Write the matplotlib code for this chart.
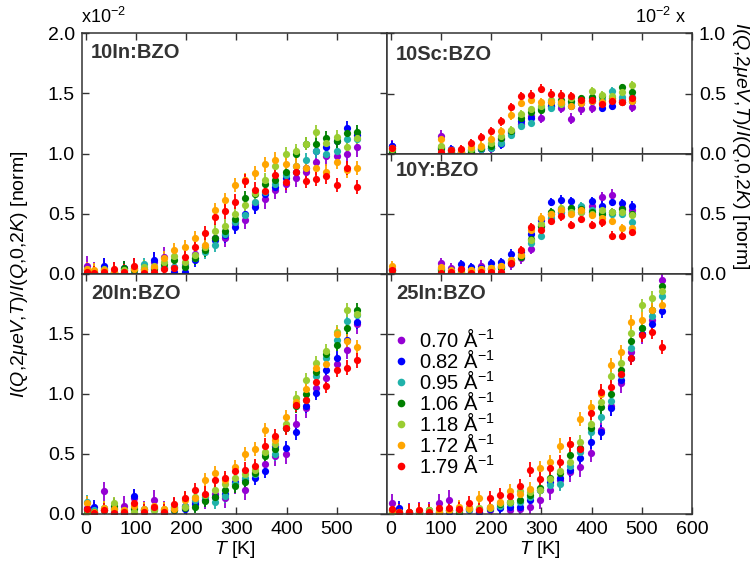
import numpy as np
import matplotlib
matplotlib.use("Agg")
import matplotlib.pyplot as plt
from matplotlib.lines import Line2D

plt.rcParams['font.family'] = ['Liberation Sans', 'DejaVu Sans']
plt.rcParams['mathtext.fontset'] = 'custom'
plt.rcParams['mathtext.rm'] = 'Liberation Sans'
plt.rcParams['mathtext.it'] = 'Liberation Sans:italic'
plt.rcParams['mathtext.bf'] = 'Liberation Sans:bold'

# momentum transfers and colours, lowest Q drawn first
q_labels = ["0.70", "0.82", "0.95", "1.06", "1.18", "1.72", "1.79"]
q_colors = ["#9400d3", "#0000ff", "#20b2aa", "#008000", "#9acd32", "#ffa500", "#ff0000"]

# temperatures [K]
t_in = [2, 17, 37, 57, 77, 97, 117, 137, 157, 177, 197, 217, 237, 258,
        278, 298, 318, 338, 358, 378, 398, 418, 438, 458, 478, 500, 520, 540]
t_sy = [2, 100, 120, 140, 160, 180, 200, 220, 240, 260, 280, 300, 320, 340,
        360, 380, 400, 420, 440, 460, 480]

# normalised elastic intensity (x 1e-2), one row per Q
in10 = [
    [0.07, 0.02, 0.05, 0.02, 0.03, 0.05, 0.04, 0.10, 0.14, 0.06, 0.08, 0.17, 0.22, 0.30,
     0.30, 0.42, 0.45, 0.58, 0.62, 0.70, 0.75, 0.80, 0.85, 0.93, 0.98, 0.98, 1.00, 1.05],
    [0.03, 0.01, 0.07, 0.02, 0.05, 0.00, 0.02, 0.12, 0.05, 0.02, 0.02, 0.12, 0.20, 0.28,
     0.32, 0.39, 0.50, 0.56, 0.66, 0.72, 0.80, 0.85, 0.88, 1.02, 1.05, 1.10, 1.21, 1.15],
    [0.04, 0.01, 0.02, 0.00, 0.03, 0.03, 0.08, 0.05, 0.06, 0.06, 0.07, 0.13, 0.18, 0.24,
     0.33, 0.43, 0.49, 0.60, 0.68, 0.75, 0.82, 0.90, 0.95, 1.02, 1.00, 1.02, 1.12, 1.12],
    [0.02, 0.02, 0.03, 0.01, 0.05, 0.03, 0.04, 0.04, 0.08, 0.12, 0.06, 0.13, 0.20, 0.30,
     0.36, 0.46, 0.63, 0.66, 0.75, 0.78, 0.85, 1.00, 1.08, 1.08, 1.13, 1.10, 1.17, 1.18],
    [0.03, 0.02, 0.04, 0.02, 0.03, 0.05, 0.06, 0.07, 0.10, 0.15, 0.10, 0.16, 0.22, 0.36,
     0.40, 0.50, 0.57, 0.67, 0.78, 0.90, 1.00, 1.02, 1.08, 1.18, 1.09, 1.14, 1.05, 1.13],
    [0.04, 0.03, 0.03, 0.02, 0.02, 0.04, 0.03, 0.06, 0.13, 0.20, 0.22, 0.30, 0.24, 0.53,
     0.61, 0.74, 0.78, 0.84, 0.91, 0.95, 0.91, 0.90, 0.88, 0.88, 0.85, 0.93, 0.86, 0.88],
    [0.02, 0.01, 0.02, 0.04, 0.02, 0.07, 0.01, 0.02, 0.04, 0.05, 0.14, 0.22, 0.34, 0.47,
     0.52, 0.60, 0.77, 0.70, 0.69, 0.82, 0.76, 0.85, 0.77, 0.79, 0.81, 0.74, 0.88, 0.72],
]
in20 = [
    [0.05, 0.02, 0.19, 0.05, 0.07, 0.13, 0.03, 0.12, 0.03, 0.05, 0.07, 0.10, 0.12, 0.17,
     0.13, 0.25, 0.20, 0.35, 0.42, 0.48, 0.50, 0.75, 0.88, 1.05, 1.13, 1.25, 1.37, 1.58],
    [0.04, 0.06, 0.03, 0.02, 0.00, 0.15, 0.03, 0.05, 0.02, 0.03, 0.04, 0.08, 0.12, 0.14,
     0.17, 0.27, 0.28, 0.30, 0.36, 0.57, 0.55, 0.68, 0.90, 1.01, 1.20, 1.30, 1.45, 1.60],
    [0.10, 0.03, 0.05, 0.04, 0.02, 0.05, 0.04, 0.03, 0.03, 0.06, 0.07, 0.12, 0.14, 0.10,
     0.15, 0.25, 0.30, 0.33, 0.50, 0.50, 0.72, 0.92, 0.95, 1.15, 1.30, 1.45, 1.61, 1.66],
    [0.01, 0.02, 0.03, 0.07, 0.02, 0.04, 0.03, 0.04, 0.02, 0.03, 0.05, 0.06, 0.11, 0.14,
     0.20, 0.23, 0.27, 0.34, 0.48, 0.54, 0.72, 0.90, 1.00, 1.18, 1.33, 1.41, 1.55, 1.70],
    [0.00, 0.00, 0.03, 0.09, 0.03, 0.02, 0.02, 0.03, 0.04, 0.06, 0.06, 0.14, 0.16, 0.20,
     0.25, 0.30, 0.33, 0.37, 0.52, 0.58, 0.75, 0.97, 1.12, 1.26, 1.36, 1.52, 1.70, 1.67],
    [0.09, 0.02, 0.05, 0.04, 0.03, 0.07, 0.04, 0.07, 0.04, 0.04, 0.12, 0.13, 0.28, 0.34,
     0.28, 0.39, 0.50, 0.54, 0.70, 0.62, 0.81, 0.93, 1.04, 1.22, 1.25, 1.50, 1.44, 1.39],
    [0.04, 0.01, 0.03, 0.01, 0.02, 0.09, 0.02, 0.06, 0.02, 0.08, 0.13, 0.20, 0.17, 0.28,
     0.30, 0.36, 0.37, 0.40, 0.57, 0.65, 0.72, 0.91, 0.95, 1.10, 1.07, 1.20, 1.22, 1.28],
]
in25 = [
    [0.09, 0.01, 0.01, 0.02, 0.02, 0.09, 0.12, 0.03, 0.04, 0.02, 0.03, 0.06, 0.03, 0.04,
     0.06, 0.12, 0.20, 0.28, 0.35, 0.39, 0.51, 0.70, 0.90, 1.09, 1.35, 1.50, 1.62, 1.95],
    [0.03, 0.05, 0.02, 0.02, 0.01, 0.02, 0.02, 0.01, 0.03, 0.02, 0.04, 0.05, 0.06, 0.06,
     0.12, 0.20, 0.27, 0.30, 0.37, 0.47, 0.60, 0.68, 0.88, 1.12, 1.30, 1.50, 1.58, 1.69],
    [0.02, 0.02, 0.01, 0.02, 0.01, 0.02, 0.03, 0.03, 0.04, 0.04, 0.06, 0.07, 0.09, 0.10,
     0.14, 0.20, 0.24, 0.25, 0.40, 0.52, 0.68, 0.81, 0.94, 1.16, 1.38, 1.55, 1.65, 1.82],
    [0.01, 0.02, 0.02, 0.02, 0.03, 0.02, 0.03, 0.02, 0.05, 0.04, 0.05, 0.08, 0.10, 0.12,
     0.16, 0.22, 0.30, 0.34, 0.49, 0.55, 0.72, 0.89, 1.00, 1.20, 1.44, 1.55, 1.70, 1.90],
    [0.02, 0.02, 0.01, 0.02, 0.03, 0.03, 0.03, 0.03, 0.04, 0.05, 0.05, 0.09, 0.10, 0.19,
     0.18, 0.20, 0.29, 0.36, 0.43, 0.60, 0.75, 0.93, 1.15, 1.26, 1.51, 1.74, 1.80, 1.86],
    [0.03, 0.02, 0.02, 0.03, 0.01, 0.02, 0.03, 0.06, 0.05, 0.13, 0.06, 0.10, 0.19, 0.17,
     0.21, 0.38, 0.43, 0.57, 0.58, 0.79, 0.89, 1.00, 1.24, 1.35, 1.60, 1.62, 1.70, 1.74],
    [0.04, 0.02, 0.02, 0.03, 0.02, 0.05, 0.05, 0.04, 0.09, 0.03, 0.13, 0.16, 0.15, 0.23,
     0.37, 0.29, 0.385, 0.43, 0.58, 0.54, 0.84, 1.02, 1.06, 1.17, 1.30, 1.49, 1.52, 1.39],
]
sc10 = [
    [0.07, 0.15, 0.02, 0.02, 0.03, 0.04, 0.05, 0.12, 0.17, 0.25, 0.31, 0.30, 0.40, 0.38,
     0.29, 0.37, 0.38, 0.42, 0.44, 0.45, 0.39],
    [0.07, 0.06, 0.04, 0.02, 0.02, 0.04, 0.05, 0.08, 0.18, 0.27, 0.30, 0.37, 0.40, 0.41,
     0.40, 0.42, 0.44, 0.38, 0.40, 0.43, 0.44],
    [0.03, 0.04, 0.02, 0.01, 0.03, 0.04, 0.05, 0.09, 0.16, 0.23, 0.26, 0.38, 0.38, 0.42,
     0.43, 0.45, 0.46, 0.45, 0.52, 0.47, 0.47],
    [0.02, 0.05, 0.02, 0.02, 0.02, 0.05, 0.07, 0.13, 0.19, 0.30, 0.35, 0.36, 0.43, 0.45,
     0.44, 0.46, 0.47, 0.48, 0.46, 0.55, 0.51],
    [0.04, 0.07, 0.03, 0.02, 0.04, 0.06, 0.09, 0.15, 0.20, 0.33, 0.37, 0.40, 0.45, 0.41,
     0.46, 0.44, 0.52, 0.49, 0.48, 0.51, 0.57],
    [0.05, 0.12, 0.03, 0.02, 0.06, 0.07, 0.12, 0.19, 0.32, 0.42, 0.45, 0.43, 0.43, 0.43,
     0.40, 0.42, 0.44, 0.43, 0.45, 0.43, 0.44],
    [0.05, 0.02, 0.03, 0.04, 0.09, 0.14, 0.19, 0.27, 0.39, 0.48, 0.49, 0.54, 0.50, 0.49,
     0.48, 0.45, 0.45, 0.41, 0.44, 0.43, 0.46],
]
y10 = [
    [0.04, 0.09, 0.05, 0.04, 0.04, 0.07, 0.04, 0.06, 0.08, 0.13, 0.21, 0.40, 0.50, 0.52,
     0.55, 0.52, 0.57, 0.64, 0.66, 0.55, 0.53],
    [0.03, 0.04, 0.03, 0.08, 0.06, 0.05, 0.09, 0.10, 0.17, 0.18, 0.33, 0.45, 0.60, 0.62,
     0.61, 0.56, 0.61, 0.57, 0.60, 0.59, 0.57],
    [0.03, 0.02, 0.01, 0.02, 0.02, 0.03, 0.05, 0.06, 0.10, 0.15, 0.26, 0.32, 0.47, 0.52,
     0.55, 0.57, 0.53, 0.52, 0.50, 0.50, 0.43],
    [0.02, 0.03, 0.01, 0.02, 0.02, 0.03, 0.04, 0.05, 0.09, 0.14, 0.29, 0.40, 0.52, 0.54,
     0.55, 0.54, 0.52, 0.50, 0.52, 0.54, 0.50],
    [0.01, 0.05, 0.02, 0.01, 0.03, 0.04, 0.05, 0.07, 0.12, 0.16, 0.28, 0.42, 0.50, 0.55,
     0.52, 0.52, 0.50, 0.53, 0.52, 0.52, 0.49],
    [0.07, 0.06, 0.03, 0.01, 0.03, 0.04, 0.05, 0.07, 0.12, 0.16, 0.37, 0.47, 0.50, 0.53,
     0.50, 0.53, 0.49, 0.47, 0.44, 0.38, 0.38],
    [0.03, 0.01, 0.02, 0.04, 0.01, 0.02, 0.02, 0.02, 0.09, 0.20, 0.39, 0.37, 0.44, 0.48,
     0.41, 0.46, 0.41, 0.43, 0.32, 0.32, 0.35],
]

# error bar half-widths per Q
err_in = [0.08, 0.06, 0.055, 0.055, 0.055, 0.06, 0.06]
err_sy = [0.045, 0.035, 0.03, 0.03, 0.03, 0.035, 0.035]

W, H = 753, 564
fig = plt.figure(figsize=(W / 100, H / 100), dpi=100)


def add_panel(x0, y0, x1, y1):
    # pixel box (top-left origin) -> figure fractions
    return fig.add_axes([x0 / W, 1 - y1 / H, (x1 - x0) / W, (y1 - y0) / H])


def draw_series(ax, temps, rows, errs):
    for vals, err, col in zip(rows, errs, q_colors):
        ax.errorbar(temps, vals, yerr=err, fmt='o', color=col, ms=5.2,
                    elinewidth=1.3, capsize=3.6, capthick=1.6, mew=0)


def style(ax, name, ymax, name_y):
    ax.set_xlim(-7, 600)
    ax.set_ylim(0, ymax)
    ax.set_xticks([0, 100, 200, 300, 400, 500, 600])
    ax.tick_params(direction='in', top=True, right=True, length=5, width=1,
                   labelsize=14, color='#333333', pad=5)
    for sp in ax.spines.values():
        sp.set_color('#333333')
        sp.set_linewidth(1.1)
    ax.text(0.03, name_y, name, transform=ax.transAxes, fontsize=14.5,
            fontweight='bold', color='#333333', va='center', ha='left')


ax_in10 = add_panel(82, 33, 387, 274)
ax_in20 = add_panel(82, 274, 387, 514)
ax_sc = add_panel(387, 33, 692, 154)
ax_y = add_panel(387, 154, 692, 274)
ax_in25 = add_panel(387, 274, 692, 514)

draw_series(ax_in10, t_in, in10, err_in)
draw_series(ax_in20, t_in, in20, err_in)
draw_series(ax_in25, t_in, in25, err_in)
draw_series(ax_sc, t_sy, sc10, err_sy)
draw_series(ax_y, t_sy, y10, err_sy)

style(ax_in10, "10In:BZO", 2.0, 0.92)
style(ax_in20, "20In:BZO", 2.0, 0.92)
style(ax_in25, "25In:BZO", 2.0, 0.92)
style(ax_sc, "10Sc:BZO", 1.0, 0.82)
style(ax_y, "10Y:BZO", 1.0, 0.86)

ax_in10.set_yticks([0, 0.5, 1.0, 1.5, 2.0])
ax_in10.set_yticklabels(["0.0", "0.5", "1.0", "1.5", "2.0"])
ax_in20.set_yticks([0, 0.5, 1.0, 1.5, 2.0])
ax_in20.set_yticklabels(["0.0", "0.5", "1.0", "1.5", ""])
ax_in25.set_yticks([0, 0.5, 1.0, 1.5, 2.0])
ax_in25.tick_params(labelleft=False)
for ax in (ax_sc, ax_y):
    ax.set_yticks([0, 0.5, 1.0])
    ax.tick_params(labelleft=False, labelright=True)
ax_sc.set_yticklabels(["0.0", "0.5", "1.0"])
ax_y.set_yticklabels(["0.0", "0.5", ""])

for ax in (ax_in10, ax_sc, ax_y):
    ax.tick_params(labelbottom=False)
ax_in20.set_xticklabels(["0", "100", "200", "300", "400", "500", ""])
ax_in25.set_xticklabels(["0", "100", "200", "300", "400", "500", "600"])
for ax in (ax_in20, ax_in25):
    ax.set_xlabel("$T$ [K]", fontsize=14, labelpad=1)

ylab = "$I(Q{,}2\\mu eV{,}T)/I(Q{,}0{,}2K)$ [norm]"
fig.text(20 / W, 1 - 274 / H, ylab, rotation=90, fontsize=14,
         ha='center', va='center')
fig.text(741 / W, 1 - 146 / H, ylab, rotation=270, fontsize=14,
         ha='center', va='center')
fig.text(81 / W, 1 - 17 / H, "x10$^{-2}$", fontsize=13, ha='left', va='center')
fig.text(686 / W, 1 - 17 / H, "10$^{-2}$ x", fontsize=13, ha='right', va='center')

handles = [Line2D([], [], marker='o', ls='none', color=c, ms=5.5, mew=0)
           for c in q_colors]
labels = [q + " \u00c5$^{-1}$" for q in q_labels]
ax_in25.legend(handles, labels, loc='upper left', bbox_to_anchor=(0.02, 0.775),
               frameon=False, fontsize=14.5, handlelength=0.8, handletextpad=0.5,
               labelspacing=-0.1, borderpad=0, borderaxespad=0)

fig.savefig("out.png", dpi=100)
